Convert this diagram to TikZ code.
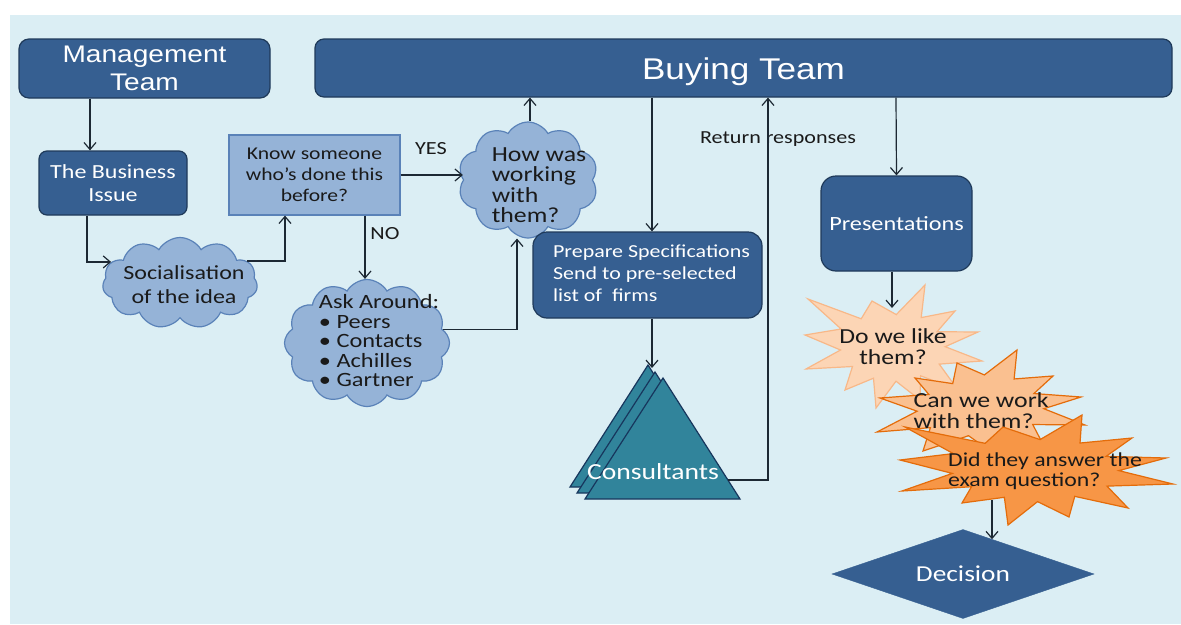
\documentclass[tikz,border=0pt]{standalone}
\usepackage{fontspec}
\setmainfont{Carlito}[FakeStretch=1.2]
\newfontfamily\arialf{Liberation Sans}[FakeStretch=1.17]
\usetikzlibrary{arrows.meta,shapes.symbols,shapes.geometric,calc}
\definecolor{bgc}{HTML}{DBEEF4}
\definecolor{dkblue}{HTML}{365F91}
\definecolor{dkedge}{HTML}{1F3A5A}
\definecolor{ltblue}{HTML}{95B3D7}
\definecolor{ltedge}{HTML}{5A82B8}
\definecolor{teal}{HTML}{31849B}
\definecolor{tealedge}{HTML}{17365D}
\definecolor{sAf}{HTML}{FCD5B5}
\definecolor{sAe}{HTML}{F8B888}
\definecolor{sBf}{HTML}{FAC090}
\definecolor{sBe}{HTML}{E46C0A}
\definecolor{sCf}{HTML}{F79646}
\definecolor{sCe}{HTML}{E46C0A}
\definecolor{arrc}{HTML}{1C2833}
\definecolor{txt}{HTML}{1A1A1A}
\tikzset{
  darkbox/.style={rectangle, rounded corners=10pt, fill=dkblue, draw=dkedge, line width=1.2pt, text=white, align=center, inner sep=0pt},
  lightbox/.style={rectangle, fill=ltblue, draw=ltedge, line width=1.2pt, text=txt, align=center, inner sep=0pt},
  cloudbox/.style={cloud, cloud puffs=11, cloud puff arc=120, cloud ignores aspect, fill=ltblue, draw=ltedge, line width=1.2pt, inner sep=0pt},
  startext/.style={text=txt, inner sep=0pt},
  lbl/.style={text=txt, inner sep=0pt, align=left},
  arr/.style={draw=arrc, line width=1.2pt, -{Straight Barb[length=7pt,width=12pt,line width=1.2pt]}},
  tri/.style={fill=teal, draw=tealedge, line width=1.2pt, line join=miter},
  starA/.style={fill=sAf, draw=sAe, line width=1.2pt, line join=miter},
  starB/.style={fill=sBf, draw=sBe, line width=1.2pt, line join=miter},
  starC/.style={fill=sCf, draw=sCe, line width=1.2pt, line join=miter}
}
\begin{document}
\begin{tikzpicture}[x=1pt,y=-1pt]
\useasboundingbox (0,0) rectangle (1181,624);
\fill[white] (0,0) rectangle (1181,624);
\fill[bgc] (10,15) rectangle (1181,624);

% top boxes
\node[darkbox, minimum width=251pt, minimum height=59pt, font=\arialf\fontsize{24}{27.5}\selectfont] (mgmt) at (144.5,68.5) {Management\\Team};
\node[darkbox, rounded corners=9pt, minimum width=857pt, minimum height=58pt, text height=23pt, text depth=0pt, font=\arialf\fontsize{30}{34}\selectfont] (buy) at (743.5,68) {Buying Team};

% left side
\node[darkbox, rounded corners=8pt, minimum width=148pt, minimum height=64pt, font=\fontsize{20}{23}\selectfont] (bi) at (113,183) {The Business\\Issue};
\node[lightbox, minimum width=171pt, minimum height=80pt, font=\fontsize{18}{21}\selectfont] (know) at (314.5,175) {Know someone\\who’s done this\\before?};
\node[cloudbox, minimum width=155pt, minimum height=91pt] (soc) at (180,283) {};
\node[lbl, align=center, font=\fontsize{20}{24}\selectfont] (soct) at (184,285) {Socialisation\\of the idea};
\node[cloudbox, cloud puffs=10, minimum width=140pt, minimum height=116pt] (how) at (528,180) {};
\node[lbl, font=\fontsize{21.5}{20.5}\selectfont] (howt) at (539,185) {How was\\working\\with\\them?};
\node[cloudbox, cloud puffs=12, minimum width=165pt, minimum height=127pt] (ask) at (367,343) {};
\node[lbl, font=\fontsize{20.3}{19.5}\selectfont] (askt) at (379,341) {Ask Around:\\• Peers\\• Contacts\\• Achilles\\• Gartner};
\node[lbl, font=\fontsize{18.5}{20}\selectfont] (yes) at (431,149) {YES};
\node[lbl, font=\fontsize{18.5}{20}\selectfont] (no) at (385,234) {NO};

% middle
\node[darkbox, rounded corners=14pt, minimum width=229pt, minimum height=86pt, font=\fontsize{18.3}{22}\selectfont] (prep) at (647.5,275) {\begin{tabular}{@{\hspace{8pt}}l@{}}Prepare Specifications\\Send to pre-selected\\list of\ \ firms\end{tabular}};
\filldraw[tri] (648,365) -- (570,487) -- (725,487) -- cycle;
\filldraw[tri] (655,372) -- (577,493) -- (732,493) -- cycle;
\filldraw[tri] (663,378) -- (585,499) -- (740,499) -- cycle;
\node[text=white, inner sep=0pt, font=\fontsize{23}{26}\selectfont] (cons) at (653,472) {Consultants};
\coordinate (apex) at (652,368);
\coordinate (cret) at (728,480);
\node[lbl, font=\fontsize{18.4}{20}\selectfont] (ret) at (778,139) {Return responses};

% right
\node[darkbox, rounded corners=15pt, minimum width=151pt, minimum height=95pt, font=\fontsize{20.2}{24}\selectfont] (pres) at (896.5,223.5) {Presentations};

% starbursts
\coordinate (ca) at (893,347);
\foreach \n/\p in {1/{808,299},2/{872,301},3/{925,285},4/{955,311},5/{978,332},6/{982,361},7/{958,390},8/{920,400},9/{876,408},10/{845,390},11/{806,369},12/{805,335}}
  \coordinate (sa\n) at (\p);
\filldraw[starA] (sa1) foreach \i/\j in {1/2,2/3,3/4,4/5,5/6,6/7,7/8,8/9,9/10,10/11,11/12,12/1} { -- ($(ca)!0.6!($(sa\i)!0.5!(sa\j)$)$) -- (sa\j) } -- cycle;
\node[startext, align=center, font=\fontsize{21.4}{21}\selectfont] (s1) at (893,347) {Do we like\\them?};

\coordinate (cb) at (980,405);
\foreach \n/\p in {1/{957,363},2/{1017,350},3/{1053,376},4/{1081,397},5/{1085,425},6/{1045,448},7/{1000,458},8/{923,451},9/{877,432},10/{880,398},11/{915,378}}
  \coordinate (sb\n) at (\p);
\filldraw[starB] (sb1) foreach \i/\j in {1/2,2/3,3/4,4/5,5/6,6/7,7/8,8/9,9/10,10/11,11/1} { -- ($(cb)!0.62!($(sb\i)!0.5!(sb\j)$)$) -- (sb\j) } -- cycle;
\node[startext, align=left, font=\fontsize{21.5}{21}\selectfont] (s2) at (981,411) {Can we work\\with them?};

\coordinate (cc) at (1036,470);
\foreach \n/\p in {1/{905,427},2/{1003,427},3/{1082,415},4/{1132,438},5/{1166,458},6/{1173,484},7/{1128,508},8/{1069,517},9/{1008,525},10/{962,503},11/{902,491},12/{900,460}}
  \coordinate (sc\n) at (\p);
\filldraw[starC] (sc1) foreach \i/\j in {1/2,2/3,3/4,4/5,5/6,6/7,7/8,8/9,9/10,10/11,11/12,12/1} { -- ($(cc)!0.62!($(sc\i)!0.5!(sc\j)$)$) -- (sc\j) } -- cycle;
\node[startext, align=left, font=\fontsize{19.8}{20}\selectfont] (s3) at (1045,471) {Did they answer the\\exam question?};

\node[diamond, shape aspect=2.94, fill=dkblue, draw=dkblue, minimum width=262pt, minimum height=89pt, inner sep=0pt, text=white, font=\fontsize{22.8}{26}\selectfont] (dec) at (963,574) {Decision};
\coordinate (s1top) at (892,308);
\coordinate (s3bot) at (992,500);

% connectors
\draw[arr] ([xshift=-54.5pt]mgmt.south) -- ([xshift=-23pt]bi.north);
\draw[arr] ([xshift=-26pt]bi.south) |- (soc.163);
\draw[arr] (soc.18) -| ([xshift=-29.5pt]know.south);
\draw[arr] (know.east) -- (know.east -| how.west);
\draw[arr] ([xshift=50.5pt]know.south) -- ([xshift=50.5pt]know.south |- ask.north);
\draw[arr] (ask.10) -| ([xshift=-11pt]how.south);
\draw[arr] ([xshift=2pt]how.north) -- ([xshift=2pt]how.north |- buy.south);
\draw[arr] ([xshift=4.5pt]prep.north |- buy.south) -- ([xshift=4.5pt]prep.north);
\draw[arr] ([xshift=4.5pt]prep.south) -- (apex);
\draw[arr] (cret) -| ([xshift=24.5pt]buy.south);
\draw[arr] ([xshift=152.5pt]buy.south) -- (pres.north);
\draw[arr] ([xshift=-4.5pt]pres.south) -- (s1top);
\draw[arr] (s3bot) -- (s3bot |- dec.50);
\end{tikzpicture}
\end{document}
